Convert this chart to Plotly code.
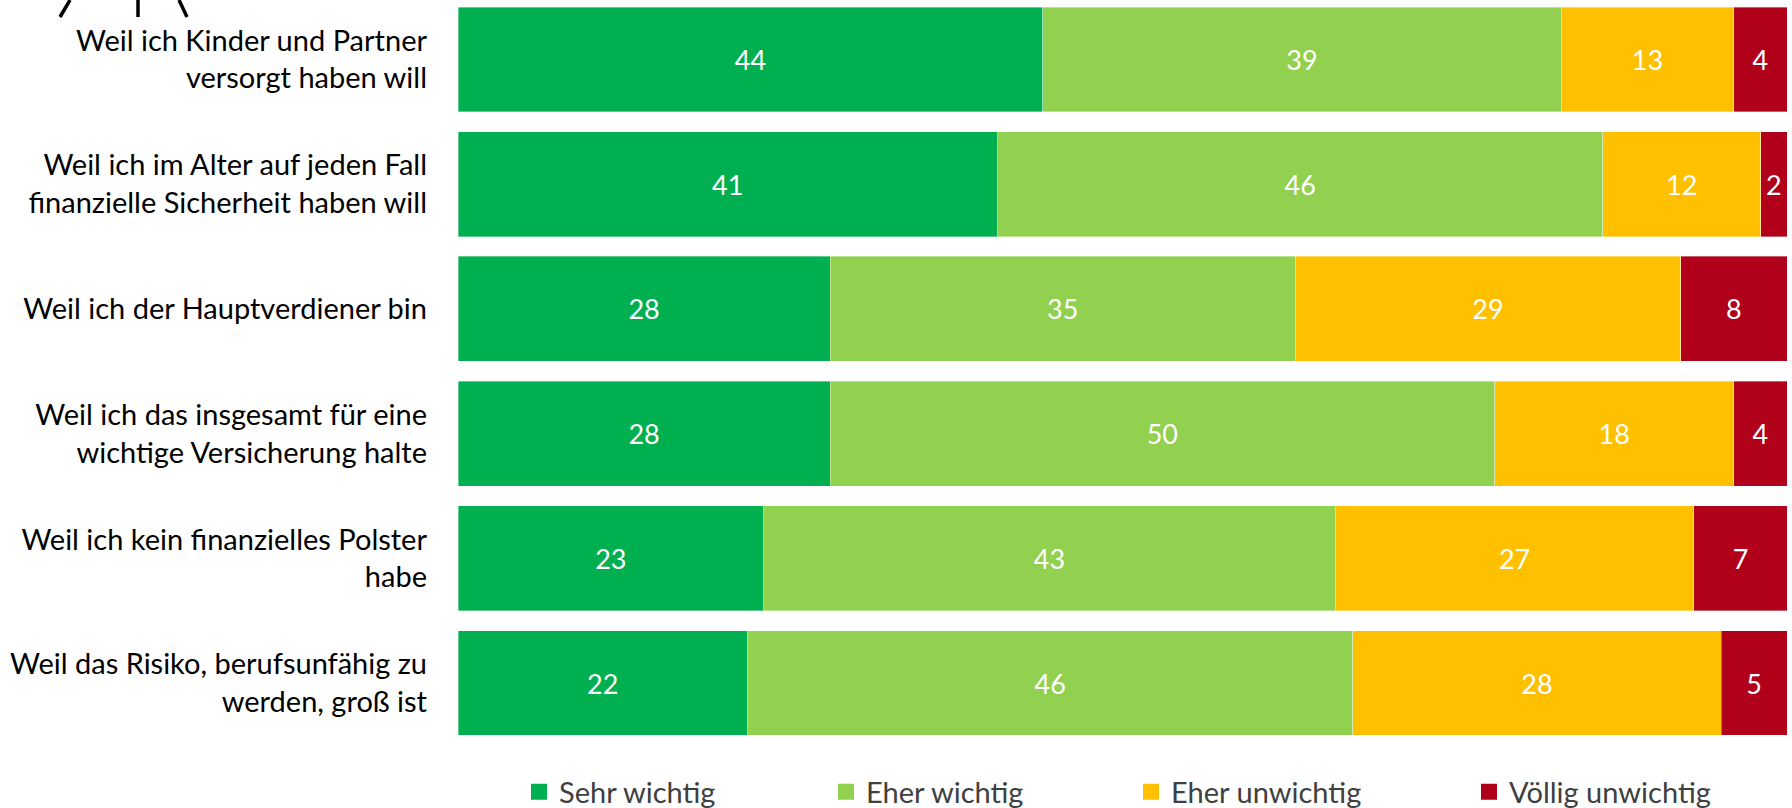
import plotly.graph_objects as go

# Gründe für eine Berufsunfähigkeitsversicherung (Anteile in %)
categories = [
    "Weil ich Kinder und Partner<br>versorgt haben will",
    "Weil ich im Alter auf jeden Fall<br>finanzielle Sicherheit haben will",
    "Weil ich der Hauptverdiener bin",
    "Weil ich das insgesamt für eine<br>wichtige Versicherung halte",
    "Weil ich kein finanzielles Polster<br>habe",
    "Weil das Risiko, berufsunfähig zu<br>werden, groß ist",
]
series_names = ["Sehr wichtig", "Eher wichtig", "Eher unwichtig", "Völlig unwichtig"]
sehr_wichtig = [44, 41, 28, 28, 23, 22]
eher_wichtig = [39, 46, 35, 50, 43, 46]
eher_unwichtig = [13, 12, 29, 18, 27, 28]
voellig_unwichtig = [4, 2, 8, 4, 7, 5]
series_values = [sehr_wichtig, eher_wichtig, eher_unwichtig, voellig_unwichtig]
colors = ["#00B050", "#92D050", "#FFC000", "#B0001A"]

FONT = "Lato"
PLOT_LEFT, PLOT_WIDTH, PLOT_HEIGHT = 458, 1329, 745
# horizontal pixel position of each legend swatch
legend_swatch_px = [538, 845, 1150, 1488]
legend_ids = ["legend", "legend2", "legend3", "legend4"]

fig = go.Figure()
for name, vals, col, lid in zip(series_names, series_values, colors, legend_ids):
    fig.add_trace(go.Bar(
        y=categories,
        x=vals,
        orientation="h",
        name=name,
        width=0.841,
        marker=dict(color=col, line=dict(color="rgba(255,255,255,0.45)", width=0.8)),
        text=[str(v) for v in vals],
        textposition="inside",
        insidetextanchor="middle",
        textangle=0,
        constraintext="none",
        textfont=dict(family=FONT, size=27, color="white"),
        showlegend=False,
        hoverinfo="skip",
    ))
    # legend entry with a larger square swatch
    fig.add_trace(go.Scatter(
        x=[None], y=[None],
        mode="markers",
        name=name,
        marker=dict(symbol="square", size=16, color=col),
        showlegend=True,
        legend=lid,
    ))

# strokes of a partly visible icon in the top left corner
for x0, y0, x1, y1 in [(60, 17, 70, 0), (138, 17, 138, 0), (179, 0, 187, 17)]:
    fig.add_shape(type="line", xref="paper", yref="paper",
                  x0=(x0 - PLOT_LEFT) / PLOT_WIDTH, x1=(x1 - PLOT_LEFT) / PLOT_WIDTH,
                  y0=(PLOT_HEIGHT - y0) / PLOT_HEIGHT, y1=(PLOT_HEIGHT - y1) / PLOT_HEIGHT,
                  line=dict(color="black", width=3.5))

legend_layout = {}
for lid, px in zip(legend_ids, legend_swatch_px):
    legend_layout[lid] = dict(
        orientation="h",
        x=(px - 19 - PLOT_LEFT) / PLOT_WIDTH,
        xanchor="left",
        yref="container",
        y=0.0198,
        yanchor="middle",
        font=dict(family=FONT, size=29, color="#404040"),
        bgcolor="rgba(0,0,0,0)",
    )

fig.update_layout(
    barmode="stack",
    barnorm="percent",
    width=1792,
    height=808,
    margin=dict(l=PLOT_LEFT, r=5, t=0, b=63),
    plot_bgcolor="white",
    paper_bgcolor="white",
    font=dict(family=FONT, size=29, color="black"),
    xaxis=dict(range=[0, 100], visible=False, fixedrange=True),
    yaxis=dict(
        categoryorder="array",
        categoryarray=categories,
        range=[5.497, -0.477],
        showgrid=False,
        zeroline=False,
        showline=False,
        ticks="",
        ticklabelstandoff=30,
        tickfont=dict(family=FONT, size=29, color="black"),
    ),
    **legend_layout,
)

fig.write_html("out.html")
